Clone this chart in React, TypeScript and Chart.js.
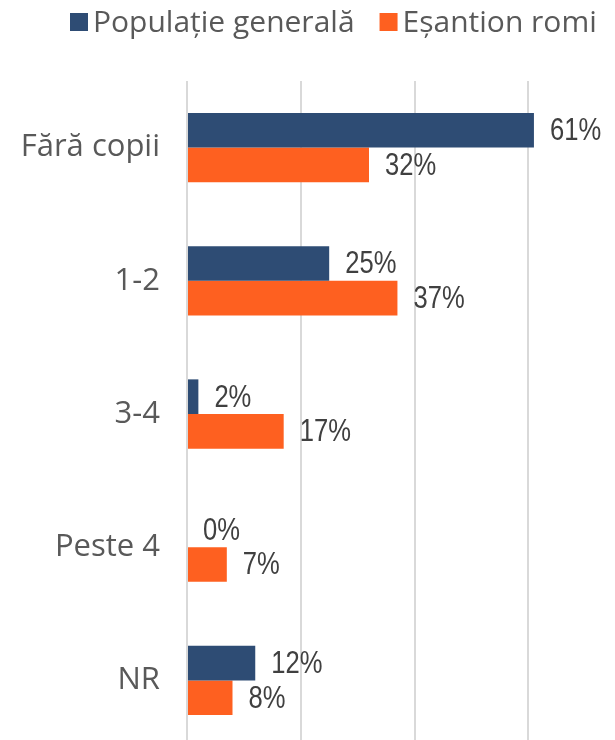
import React, { useEffect, useRef } from "react";
import { Chart, registerables } from "chart.js";

Chart.register(...registerables);

const categories = ["Fără copii", "1-2", "3-4", "Peste 4", "NR"];
const seriesNames = ["Populație generală", "Eșantion romi"];
const populatieGenerala = [61, 25, 2, 0, 12];
const esantionRomi = [32, 37, 17, 7, 8];
const seriesColors = ["#2E4C74", "#FE6020"];

const LABEL_FONT = "'Open Sans', 'DejaVu Sans', sans-serif";
const VALUE_FONT = "'Liberation Sans', Arial, sans-serif";

const legendPlugin = {
  id: "customLegend",
  afterDraw(chart: any) {
    const ctx = chart.ctx;
    ctx.save();
    ctx.font = `30px ${LABEL_FONT}`;
    ctx.textBaseline = "middle";
    ctx.textAlign = "left";
    let x = 70;
    const cy = 22;
    chart.data.datasets.forEach((ds: any) => {
      ctx.fillStyle = ds.backgroundColor;
      ctx.fillRect(x, cy - 9, 18, 18);
      x += 23;
      ctx.fillStyle = "#595959";
      ctx.fillText(ds.label, x, cy + 1);
      x += ctx.measureText(ds.label).width + 25;
    });
    ctx.restore();
  },
};

const valueLabelPlugin = {
  id: "valueLabels",
  afterDatasetsDraw(chart: any) {
    const ctx = chart.ctx;
    const sx = 0.8;
    chart.data.datasets.forEach((ds: any, di: number) => {
      const meta = chart.getDatasetMeta(di);
      meta.data.forEach((bar: any, i: number) => {
        ctx.save();
        ctx.font = `32px ${VALUE_FONT}`;
        ctx.fillStyle = "#404040";
        ctx.textBaseline = "middle";
        ctx.textAlign = "left";
        ctx.translate(bar.x + 16, bar.y + 1);
        ctx.scale(sx, 1);
        ctx.fillText(`${ds.data[i]}%`, 0, 0);
        ctx.restore();
      });
    });
  },
};

export default function App() {
  const canvasRef = useRef<HTMLCanvasElement | null>(null);

  useEffect(() => {
    document.body.style.margin = "0";
    const canvas = canvasRef.current;
    if (!canvas) return;
    const chart = new Chart(canvas, {
      type: "bar",
      data: {
        labels: categories,
        datasets: [
          {
            label: seriesNames[0],
            data: populatieGenerala,
            backgroundColor: seriesColors[0],
            barPercentage: 1,
            categoryPercentage: 0.52,
          },
          {
            label: seriesNames[1],
            data: esantionRomi,
            backgroundColor: seriesColors[1],
            barPercentage: 1,
            categoryPercentage: 0.52,
          },
        ],
      },
      options: {
        indexAxis: "y",
        responsive: false,
        animation: false,
        maintainAspectRatio: false,
        layout: { padding: { top: 81, right: 40, bottom: 0, left: 0 }, autoPadding: false },
        plugins: {
          legend: { display: false },
          tooltip: { enabled: false },
        },
        scales: {
          x: {
            min: 0,
            max: 80,
            ticks: { display: false, stepSize: 20 },
            grid: { color: "#D9D9D9", lineWidth: 2, drawTicks: false },
            border: { display: false },
            afterFit(scale: any) {
              scale.height = 0;
              scale.paddingLeft = 0;
              scale.paddingRight = 0;
            },
          },
          y: {
            grid: { display: false, drawTicks: false },
            border: { display: false },
            ticks: {
              color: "#595959",
              font: { family: LABEL_FONT, size: 31 },
              padding: 27,
            },
            afterFit(scale: any) {
              scale.width = 187;
              scale.paddingTop = 0;
              scale.paddingBottom = 0;
            },
          },
        },
      },
      plugins: [legendPlugin, valueLabelPlugin],
    });
    return () => chart.destroy();
  }, []);

  return (
    <div style={{ width: 615, height: 740, overflow: "hidden", position: "relative" }}>
      <canvas ref={canvasRef} width={682} height={747} style={{ display: "block" }} />
    </div>
  );
}
